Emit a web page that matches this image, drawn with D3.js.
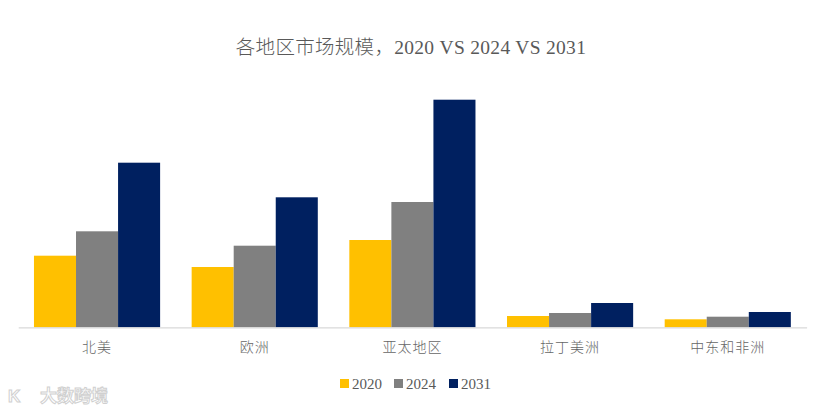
<!DOCTYPE html>
<html><head><meta charset="utf-8">
<script src="https://cdn.jsdelivr.net/npm/d3@7"></script>
<style>body{margin:0;background:#fff}svg{display:block}</style>
</head><body>
<svg id="c" width="834" height="411"></svg>
<script>
const categories = ["北美","欧洲","亚太地区","拉丁美洲","中东和非洲"];
const seriesNames = ["2020","2024","2031"];
const values2020 = [71.6, 60.3, 87.3, 11.3, 8.0];
const values2024 = [96.0, 81.6, 125.3, 14.3, 10.6];
const values2031 = [164.6, 130.0, 227.6, 24.3, 15.3];
const colors = ["#FFC000","#808080","#002060"];
const title = "各地区市场规模，2020 VS 2024 VS 2031";

const svg = d3.select("#c");
const series = [values2020, values2024, values2031];
const x0 = d3.scaleBand().domain(categories).range([18.2, 806.6]).paddingInner(0.2).paddingOuter(0.1);
const x1 = d3.scaleBand().domain(seriesNames).range([0, x0.bandwidth()]);
const y = d3.scaleLinear().domain([0, 250]).range([327.3, 77.3]);

svg.append("text").attr("x", 411).attr("y", 54).attr("text-anchor","middle")
  .attr("font-family","'Liberation Serif','Noto Sans CJK SC',serif").attr("font-size",19.5)
  .attr("font-weight",300).attr("letter-spacing",0.3)
  .attr("fill","#595959").text(title);

const g = svg.append("g");
categories.forEach((c, i) => {
  seriesNames.forEach((s, j) => {
    g.append("rect")
      .attr("x", x0(c) + x1(s))
      .attr("width", x1.bandwidth())
      .attr("y", y(series[j][i]))
      .attr("height", y(0) - y(series[j][i]))
      .attr("fill", colors[j]);
  });
});

const axis = svg.append("g").attr("transform", `translate(0,${y(0)})`)
  .call(d3.axisBottom(x0).tickSize(0).tickPadding(15));
axis.select(".domain").attr("stroke","#d9d9d9").attr("stroke-width",1.2);
axis.selectAll("text").attr("font-family","'Noto Sans CJK SC',sans-serif").attr("font-size",14)
  .attr("font-weight",300).attr("letter-spacing",1).attr("fill","#666666");

const legendX = [340, 394, 449];
const leg = svg.append("g");
seriesNames.forEach((s, j) => {
  leg.append("rect").attr("x", legendX[j]).attr("y", 379).attr("width", 9).attr("height", 9).attr("fill", colors[j]);
  leg.append("text").attr("x", legendX[j] + 12).attr("y", 388.5)
    .attr("font-family","'Liberation Serif',serif").attr("font-size",15).attr("fill","#595959").text(s);
});

svg.append("text").attr("x", 40).attr("y", 402)
  .attr("font-family","'Noto Sans CJK SC',sans-serif").attr("font-size",17).attr("font-weight","bold")
  .attr("fill","#ffffff").attr("stroke","#d0d0d0").attr("stroke-width",1).text("大数跨境");
svg.append("text").attr("x", 8).attr("y", 402)
  .attr("font-family","'Liberation Sans',sans-serif").attr("font-size",17).attr("font-weight","bold")
  .attr("fill","#ffffff").attr("stroke","#d0d0d0").attr("stroke-width",1).text("K");
</script>
</body></html>
